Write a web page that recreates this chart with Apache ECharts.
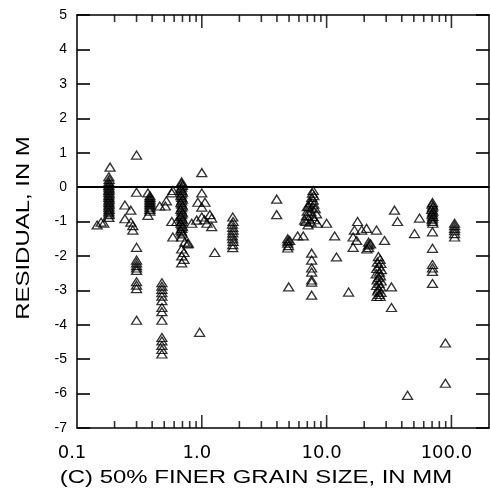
<!DOCTYPE html>
<html>
<head>
<meta charset="utf-8">
<script src="https://cdn.jsdelivr.net/npm/echarts@6/dist/echarts.min.js"></script>
<style>
  html, body { margin: 0; padding: 0; background: #fff; }
  #chart { width: 490px; height: 499px; }
</style>
</head>
<body>
<div id="chart"></div>
<script>
// Residuals (m) against median (50% finer) grain size (mm), grouped by size range
const fineSand = [
  [0.145, -1.1], [0.156, -1.02], [0.164, -1.05], [0.184, 0.58],
  [0.18, 0.3], [0.181, 0.22], [0.18, 0.15], [0.181, 0.1], [0.18, 0.05], [0.18, 0.0],
  [0.181, -0.05], [0.18, -0.1], [0.18, -0.15], [0.181, -0.2], [0.18, -0.25], [0.18, -0.3],
  [0.181, -0.35], [0.18, -0.4], [0.18, -0.45], [0.181, -0.5], [0.18, -0.55], [0.18, -0.6],
  [0.181, -0.65], [0.18, -0.7], [0.18, -0.75], [0.181, -0.8], [0.18, -0.88]
];
const mediumSand = [
  [0.30, 0.93], [0.30, -0.15], [0.242, -0.52], [0.27, -0.67], [0.242, -0.92], [0.27, -1.02],
  [0.28, -1.12], [0.28, -1.25], [0.30, -1.75], [0.30, -2.12], [0.30, -2.2], [0.30, -2.28],
  [0.30, -2.35], [0.30, -2.42], [0.30, -2.75], [0.30, -2.85], [0.30, -2.95], [0.30, -3.87],
  [0.37, -0.17], [0.384, -0.25], [0.384, -0.3], [0.384, -0.35], [0.384, -0.4], [0.384, -0.45],
  [0.384, -0.5], [0.384, -0.55], [0.384, -0.6], [0.384, -0.65], [0.384, -0.7], [0.37, -0.82],
  [0.46, -0.55], [0.51, -0.55], [0.52, -0.4],
  [0.479, -2.78], [0.479, -2.88], [0.479, -2.97], [0.479, -3.07], [0.479, -3.17], [0.479, -3.3],
  [0.479, -3.5], [0.479, -3.62], [0.479, -3.87], [0.479, -4.37], [0.479, -4.47], [0.479, -4.6],
  [0.479, -4.72], [0.479, -4.85]
];
const coarseSand = [
  [0.586, -0.1], [0.575, -0.17], [0.575, -1.0], [0.631, -1.0], [0.586, -1.45],
  [0.69, 0.15], [0.69, 0.1], [0.7, 0.05], [0.69, 0.0], [0.68, -0.05], [0.69, -0.1], [0.7, -0.15],
  [0.69, -0.2], [0.68, -0.25], [0.69, -0.3], [0.7, -0.35], [0.69, -0.4], [0.68, -0.45], [0.69, -0.5],
  [0.7, -0.55], [0.69, -0.6], [0.68, -0.65], [0.69, -0.7], [0.7, -0.75], [0.69, -0.8], [0.68, -0.85],
  [0.69, -0.9], [0.7, -0.95], [0.69, -1.0], [0.68, -1.05], [0.69, -1.1], [0.7, -1.15], [0.69, -1.2],
  [0.68, -1.25], [0.69, -1.3], [0.7, -1.36], [0.69, -1.45],
  [0.73, -1.6], [0.77, -1.65], [0.69, -1.8], [0.72, -1.9], [0.69, -2.0], [0.72, -2.1], [0.69, -2.2]
];
const granules = [
  [1.0, 0.42], [1.0, -0.17], [0.93, -0.44], [1.06, -0.44], [1.0, -0.58], [0.91, -0.96],
  [1.0, -0.87], [1.16, -0.8], [1.1, -1.05], [1.2, -1.15], [0.83, -1.05], [1.05, -0.95], [1.2, -0.9],
  [0.78, -1.63], [1.27, -1.9], [0.96, -4.22],
  [1.77, -0.87], [1.78, -1.0], [1.76, -1.08], [1.77, -1.17], [1.78, -1.25], [1.77, -1.33],
  [1.76, -1.42], [1.77, -1.5], [1.78, -1.58], [1.77, -1.67], [1.77, -1.76]
];
const fineGravel = [
  [3.98, -0.35], [3.98, -0.8], [4.88, -1.5], [4.88, -1.57], [4.88, -1.63], [4.95, -1.7],
  [4.88, -1.77], [5.06, -1.55], [5.86, -1.42], [6.5, -1.42], [4.97, -2.9],
  [7.0, -0.57], [6.67, -0.96],
  [7.8, -0.1], [7.7, -0.18], [7.9, -0.25], [7.6, -0.3], [7.8, -0.38], [7.4, -0.45], [7.9, -0.5],
  [7.2, -0.55], [7.6, -0.6], [8.1, -0.63], [7.0, -0.7], [7.5, -0.72], [8.3, -0.78], [6.9, -0.83],
  [7.7, -0.85], [7.2, -0.92], [8.0, -0.95], [6.8, -1.0], [7.5, -1.02], [8.4, -1.05], [7.1, -1.1],
  [7.59, -1.92], [7.59, -2.12], [7.59, -2.35], [7.59, -2.47], [7.59, -2.7], [7.59, -2.76], [7.59, -3.14],
  [10.0, -1.05], [11.6, -1.42], [12.0, -2.03]
];
const mediumGravel = [
  [15.0, -3.05], [17.7, -1.0], [16.7, -1.25], [19.1, -1.25], [20.9, -1.2], [25.1, -1.25],
  [16.3, -1.45], [17.4, -1.55], [16.3, -1.75], [21.7, -1.6], [21.7, -1.68], [21.7, -1.76],
  [21.0, -1.8], [22.5, -1.65], [29.1, -1.55],
  [26.0, -2.02], [26.8, -2.1], [25.5, -2.18], [27.2, -2.22], [26.2, -2.3], [25.2, -2.36],
  [27.5, -2.4], [26.5, -2.47], [25.0, -2.52], [27.0, -2.58], [26.0, -2.63], [25.4, -2.7],
  [27.4, -2.73], [26.3, -2.8], [25.1, -2.86], [27.1, -2.9], [26.0, -2.96], [25.6, -3.02],
  [27.3, -3.06], [26.4, -3.12], [25.3, -3.18], [26.8, -3.18],
  [33.1, -2.9], [33.1, -3.5], [35.0, -0.67], [37.0, -1.0]
];
const coarseGravel = [
  [44.5, -6.05], [55.5, -0.9], [50.6, -1.35],
  [70.5, -0.45], [70.0, -0.5], [71.0, -0.55], [70.5, -0.6], [69.5, -0.65], [71.0, -0.7],
  [70.5, -0.75], [70.0, -0.8], [71.0, -0.85], [70.5, -0.9], [70.0, -0.95], [70.5, -1.0], [71.0, -1.05],
  [70.5, -1.3], [70.5, -1.78], [70.5, -2.25], [70.5, -2.35], [70.5, -2.45], [70.5, -2.8],
  [89.5, -4.53], [89.5, -5.7],
  [106, -1.05], [106, -1.12], [106, -1.2], [106, -1.27], [106, -1.35], [106, -1.45]
];

// Axis ranges and tick labels
const xDecades = [0.1, 1, 10, 100];
const xDecadeLabels = ['0.1', '1.0', '10.0', '100.0'];
const xMinorTicks = [0.2, 0.3, 0.4, 0.5, 0.6, 0.7, 0.8, 0.9,
                     2, 3, 4, 5, 6, 7, 8, 9,
                     20, 30, 40, 50, 60, 70, 80, 90];
const X_MIN = 0.1, X_MAX = 200;
const Y_MIN = -7, Y_MAX = 5;
const MAJOR_TICK = 13, MINOR_TICK = 7;

const groups = [fineSand, mediumSand, coarseSand, granules, fineGravel, mediumGravel, coarseGravel];

const chart = echarts.init(document.getElementById('chart'));

const scatterSeries = groups.map((g, i) => ({
  type: 'scatter',
  data: g,
  symbol: 'triangle',
  symbolSize: [10, 8],
  itemStyle: { color: 'rgba(0,0,0,0)', borderColor: '#000', borderWidth: 1.3 },
  silent: true,
  z: 3,
  markLine: i === 0 ? {
    silent: true,
    symbol: 'none',
    label: { show: false },
    lineStyle: { color: '#000', width: 2, type: 'solid' },
    data: [{ yAxis: 0 }],
    z: 4
  } : undefined
}));

// Log-cycle tick marks along the bottom and top frame edges, drawn as thin bars
function tickBars(values, len, yEdge, dir) {
  return {
    type: 'scatter',
    silent: true,
    clip: false,
    z: 5,
    symbol: 'rect',
    symbolSize: [1.6, len],
    symbolOffset: [0, dir * len / 2],
    itemStyle: { color: '#000' },
    data: values.map(v => [v, yEdge])
  };
}
const tickSeries = [
  tickBars(xDecades.slice(1), MAJOR_TICK, Y_MIN, -1),
  tickBars(xMinorTicks, MINOR_TICK, Y_MIN, -1),
  tickBars(xDecades.slice(1), MAJOR_TICK, Y_MAX, 1),
  tickBars(xMinorTicks, MINOR_TICK, Y_MAX, 1)
];

const frameLine = { show: true, onZero: false, lineStyle: { color: '#000', width: 1.5 } };
const yTick = { show: true, inside: true, length: MAJOR_TICK, lineStyle: { color: '#000', width: 1.6 } };

chart.setOption({
  animation: false,
  backgroundColor: '#fff',
  grid: {
    left: 77, right: 1, top: 15, bottom: 71,
    outerBoundsMode: 'none'
  },
  xAxis: [
    {
      type: 'log', logBase: 10, min: X_MIN, max: X_MAX, position: 'bottom',
      axisLine: frameLine,
      axisTick: { show: false },
      splitLine: { show: false },
      axisLabel: {
        margin: 16,
        padding: [0, 10, 0, 0],
        color: '#000',
        fontFamily: 'DejaVu Sans',
        fontSize: 18,
        showMaxLabel: false,
        formatter: function (v) {
          for (let i = 0; i < xDecades.length; i++) {
            if (Math.abs(v - xDecades[i]) / xDecades[i] < 1e-6) return xDecadeLabels[i];
          }
          return '';
        }
      }
    },
    {
      type: 'log', logBase: 10, min: X_MIN, max: X_MAX, position: 'top',
      axisLine: frameLine,
      axisTick: { show: false },
      splitLine: { show: false },
      axisLabel: { show: false }
    }
  ],
  yAxis: [
    {
      type: 'value', min: Y_MIN, max: Y_MAX, interval: 1, position: 'left',
      axisLine: frameLine,
      axisTick: yTick,
      splitLine: { show: false },
      axisLabel: { margin: 10, color: '#000', fontFamily: 'Liberation Sans', fontSize: 14 }
    },
    {
      type: 'value', min: Y_MIN, max: Y_MAX, interval: 1, position: 'right',
      axisLine: frameLine,
      axisTick: yTick,
      splitLine: { show: false },
      axisLabel: { show: false }
    }
  ],
  graphic: [
    {
      type: 'text', x: 256, y: 478, scaleX: 1.33, silent: true,
      style: {
        text: '(C) 50% FINER GRAIN SIZE, IN MM',
        fill: '#000', font: '18px "Liberation Sans"',
        textAlign: 'center', textVerticalAlign: 'middle'
      }
    },
    {
      type: 'text', x: 24, y: 228, rotation: Math.PI / 2, scaleX: 1.33, silent: true,
      style: {
        text: 'RESIDUAL, IN M',
        fill: '#000', font: '18px "Liberation Sans"',
        textAlign: 'center', textVerticalAlign: 'middle'
      }
    }
  ],
  series: scatterSeries.concat(tickSeries)
});
</script>
</body>
</html>
